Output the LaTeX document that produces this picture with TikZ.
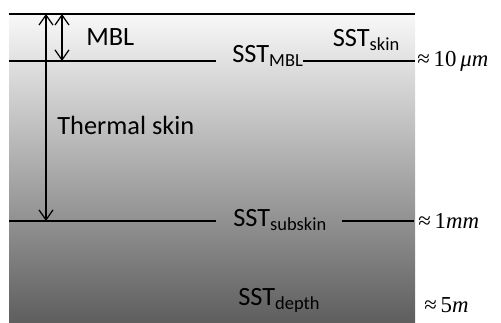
\documentclass[tikz,border=0pt]{standalone}
\usepackage{fontspec}
\setmainfont{Carlito}
\newfontfamily\timesfont{Liberation Serif}
\usetikzlibrary{arrows.meta,positioning}

\definecolor{seatop}{RGB}{248,248,248}
\definecolor{seamid}{RGB}{202,202,202}
\definecolor{seabot}{RGB}{94,94,94}

\newcommand{\sstlab}[1]{SST{\fontsize{10.5}{12}\selectfont\raisebox{-0.35ex}{#1}}}

\begin{document}
\begin{tikzpicture}[
        x=0.02cm,y=-0.02cm,
        level/.style={line width=1.2pt},
        span/.style={{Straight Barb[length=2mm,width=2.8mm]}-{Straight Barb[length=2mm,width=2.8mm]},line width=0.7pt},
        lab/.style={font=\fontsize{15}{18}\selectfont,inner sep=0pt},
        depthlab/.style={font=\timesfont\fontsize{13}{15}\selectfont,inner sep=0pt,anchor=west}
    ]
        \useasboundingbox (0,0) rectangle (501,323);

        % water column
        \fill[top color=seatop,middle color=seamid,bottom color=seabot] (9,14) rectangle (415,323);

        % interfaces
        \coordinate (surfL) at (9,14);
        \coordinate (surfR) at (415,14);
        \coordinate (mblL) at (9,61);
        \coordinate (mblM) at (216,61);
        \coordinate (mblR) at (415,61);
        \coordinate (subL) at (9,221);
        \coordinate (subM) at (216,221);
        \coordinate (subN) at (342,221);
        \coordinate (subR) at (414,221);

        \node[lab,anchor=base west] (sstmbl) at (232,63) {\sstlab{MBL}};
        \node[lab,anchor=base] (sstskin) at (366,47) {\sstlab{skin}};
        \node[lab,anchor=base west] (sstsub) at (233,227) {\sstlab{subskin}};
        \node[lab,anchor=base west] (sstdepth) at (238,306) {\sstlab{depth}};

        \draw[level] (surfL) -- (surfR);
        \draw[level] (mblL) -- (mblM);
        \draw[level] (sstmbl.east |- mblR) -- (mblR);
        \draw[level] (subL) -- (subM);
        \draw[level] (subN) -- (subR);

        % layer thicknesses
        \coordinate (thermTop) at (46,14);
        \coordinate (thermBot) at (46,221);
        \coordinate (mblTop) at (62,14);
        \coordinate (mblBot) at (62,61);
        \draw[span] (thermTop) -- (thermBot);
        \draw[span] (mblTop) -- (mblBot);

        \node[lab,anchor=base west] (mbl) at (86,46) {MBL};
        \node[lab,anchor=base west] (thermal) at (57,135) {Thermal skin};

        % depths
        \node[depthlab] (d10) at (417,61) {≈\,10\,\textit{μm}};
        \node[depthlab] (d1) at (418,221) {≈\,1\textit{mm}};
        \node[depthlab] (d5) at (424,305) {≈\,5\textit{m}};
\end{tikzpicture}
\end{document}
